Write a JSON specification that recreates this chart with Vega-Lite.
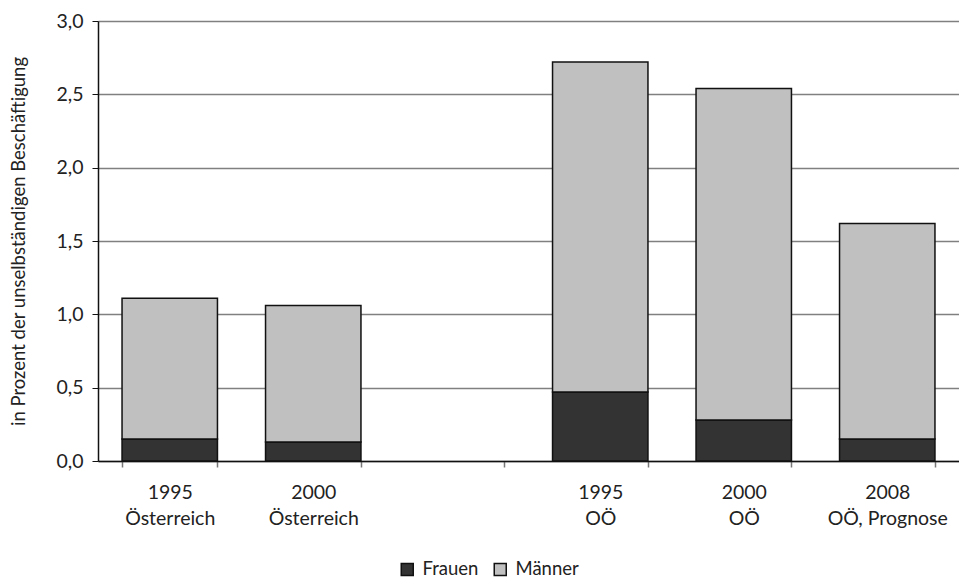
{
  "$schema": "https://vega.github.io/schema/vega-lite/v6.json",
  "autosize": "none",
  "width": 861,
  "height": 440,
  "padding": {"left": 98, "top": 21, "right": 0, "bottom": 119},
  "background": "white",
  "config": {
    "font": "Lato",
    "view": {"stroke": null},
    "axis": {"labelFont": "Lato", "titleFont": "Lato", "labelColor": "#222222", "titleColor": "#222222"}
  },
  "data": {
    "values": [
      {"gruppe": "1995|Österreich", "geschlecht": "Frauen", "wert": 0.15},
      {"gruppe": "1995|Österreich", "geschlecht": "Männer", "wert": 0.96},
      {"gruppe": "2000|Österreich", "geschlecht": "Frauen", "wert": 0.13},
      {"gruppe": "2000|Österreich", "geschlecht": "Männer", "wert": 0.93},
      {"gruppe": "1995|OÖ", "geschlecht": "Frauen", "wert": 0.47},
      {"gruppe": "1995|OÖ", "geschlecht": "Männer", "wert": 2.25},
      {"gruppe": "2000|OÖ", "geschlecht": "Frauen", "wert": 0.28},
      {"gruppe": "2000|OÖ", "geschlecht": "Männer", "wert": 2.26},
      {"gruppe": "2008|OÖ, Prognose", "geschlecht": "Frauen", "wert": 0.15},
      {"gruppe": "2008|OÖ, Prognose", "geschlecht": "Männer", "wert": 1.47}
    ]
  },
  "mark": {"type": "bar", "stroke": "#111111", "strokeWidth": 1.5},
  "encoding": {
    "x": {
      "field": "gruppe",
      "type": "nominal",
      "sort": null,
      "scale": {
        "domain": ["1995|Österreich", "2000|Österreich", " ", "1995|OÖ", "2000|OÖ", "2008|OÖ, Prognose"],
        "paddingInner": 0.335,
        "paddingOuter": 0.1675
      },
      "axis": {
        "title": null,
        "labelAngle": 0,
        "labelExpr": "split(datum.label, '|')",
        "labelFontSize": 19.5,
        "labelLineHeight": 26,
        "labelPadding": 16,
        "tickBand": "extent",
        "tickSize": 6,
        "tickColor": "#777777",
        "tickWidth": 1.5,
        "domainColor": "#111111",
        "domainWidth": 1.5,
        "grid": false
      }
    },
    "y": {
      "field": "wert",
      "type": "quantitative",
      "stack": "zero",
      "scale": {"domain": [0, 3], "nice": false},
      "axis": {
        "title": "in Prozent der unselbständigen Beschäftigung",
        "titleFontSize": 18.5,
        "titleFontWeight": "normal",
        "titlePadding": 27,
        "values": [0, 0.5, 1, 1.5, 2, 2.5, 3],
        "labelExpr": "replace(format(datum.value, '.1f'), '.', ',')",
        "labelFontSize": 19.5,
        "labelPadding": 9,
        "tickSize": 6,
        "tickColor": "#111111",
        "domainColor": "#111111",
        "domainWidth": 1.5,
        "grid": true,
        "gridColor": "#808080",
        "gridWidth": 1.5
      }
    },
    "color": {
      "field": "geschlecht",
      "type": "nominal",
      "scale": {"domain": ["Frauen", "Männer"], "range": ["#333333", "#c0c0c0"]},
      "legend": {
        "title": null,
        "orient": "none",
        "direction": "horizontal",
        "legendX": 300,
        "legendY": 539,
        "symbolType": "square",
        "symbolSize": 144,
        "symbolStrokeColor": "#111111",
        "symbolStrokeWidth": 1.5,
        "labelFontSize": 18.5,
        "labelColor": "#222222",
        "columnPadding": 12,
        "labelOffset": 6,
        "padding": 0
      }
    },
    "order": {"field": "geschlecht", "sort": "ascending"}
  }
}
